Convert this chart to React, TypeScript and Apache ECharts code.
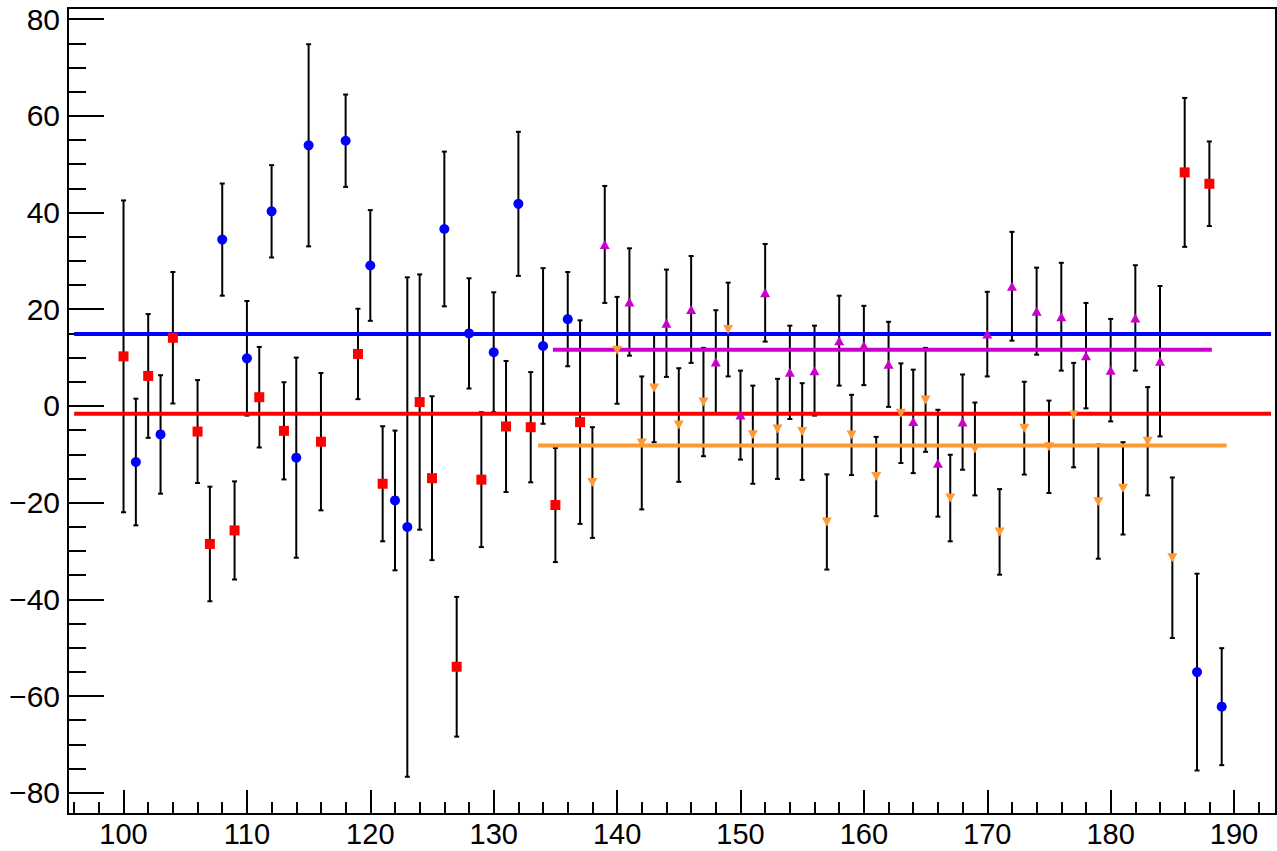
import React, { useEffect, useRef } from "react";
import * as echarts from "echarts";

// ---- data ----
const blueX = [101, 103, 108, 110, 112, 114, 115, 118, 120, 122, 123, 126, 128, 130, 132, 134, 136, 187, 189];
const blueY = [-11.6, -5.9, 34.4, 9.85, 40.25, -10.7, 53.9, 54.85, 29.05, -19.55, -25.05, 36.6, 15.0, 11.1, 41.8, 12.4, 17.95, -55.05, -62.2];
const blueErr = [13.1, 12.25, 11.6, 11.85, 9.55, 20.7, 20.9, 9.55, 11.45, 14.45, 51.65, 16.0, 11.4, 12.4, 14.9, 16.1, 9.75, 20.35, 12.1];

const redX = [100, 102, 104, 106, 107, 109, 111, 113, 116, 119, 121, 124, 125, 127, 129, 131, 133, 135, 137, 186, 188];
const redY = [10.25, 6.2, 14.1, -5.3, -28.55, -25.75, 1.8, -5.15, -7.4, 10.75, -16.1, 0.8, -14.95, -53.95, -15.25, -4.25, -4.4, -20.5, -3.35, 48.3, 45.95];
const redErr = [32.25, 12.8, 13.6, 10.65, 11.85, 10.15, 10.4, 10.05, 14.2, 9.35, 11.9, 26.4, 16.95, 14.45, 13.95, 13.55, 11.4, 11.8, 21.05, 15.4, 8.75];

const magX = [139, 141, 144, 146, 148, 150, 152, 154, 156, 158, 160, 162, 164, 166, 168, 170, 172, 174, 176, 178, 180, 182, 184];
const magY = [33.4, 21.5, 17.1, 19.95, 9.1, -1.9, 23.4, 6.95, 7.3, 13.5, 12.5, 8.6, -3.2, -11.85, -3.35, 14.85, 24.75, 19.6, 18.45, 10.4, 7.4, 18.2, 9.25];
const magErr = [12.1, 11.1, 11.1, 11.05, 10.7, 9.2, 10.1, 9.65, 9.3, 9.3, 8.2, 8.8, 10.7, 11.05, 9.85, 8.75, 11.25, 9.0, 11.15, 10.9, 10.6, 10.9, 15.55];

const orX = [138, 140, 142, 143, 145, 147, 149, 151, 153, 155, 157, 159, 161, 163, 165, 167, 169, 171, 173, 175, 177, 179, 181, 183, 185];
const orY = [-15.85, 11.5, -7.65, 3.7, -3.95, 0.8, 15.8, -5.95, -4.75, -5.3, -24.0, -6.0, -14.6, -1.5, 1.25, -19.05, -8.9, -26.05, -4.6, -8.45, -1.9, -19.8, -17.05, -7.3, -31.4];
const orErr = [11.45, 11.05, 13.75, 11.2, 11.75, 11.2, 9.7, 10.15, 10.35, 10.0, 9.85, 8.3, 8.2, 10.3, 10.75, 8.95, 9.6, 8.85, 9.6, 9.55, 10.8, 11.8, 9.55, 11.2, 16.6];

// fitted constants (blue, red, magenta, orange)
const fitValues = [14.86, -1.62, 11.6, -8.17];
const fitFrom = [96, 96, 134.8, 133.6];
const fitTo = [193, 193, 188.2, 189.4];

// axis ticks
const xMajor = [100, 110, 120, 130, 140, 150, 160, 170, 180, 190];
const xMinor = [96, 98, 100, 102, 104, 106, 108, 110, 112, 114, 116, 118, 120, 122, 124, 126, 128, 130, 132, 134, 136, 138, 140, 142, 144, 146, 148, 150, 152, 154, 156, 158, 160, 162, 164, 166, 168, 170, 172, 174, 176, 178, 180, 182, 184, 186, 188, 190, 192];
const yMajor = [-80, -60, -40, -20, 0, 20, 40, 60, 80];
const yMinor = [-80, -75, -70, -65, -60, -55, -50, -45, -40, -35, -30, -25, -20, -15, -10, -5, 0, 5, 10, 15, 20, 25, 30, 35, 40, 45, 50, 55, 60, 65, 70, 75, 80];

const X_MIN = 95.5;
const X_MAX = 193.4;
const Y_MIN = -84.4;
const Y_MAX = 82.3;

const BLUE = "#0000ff";
const RED = "#ff0000";
const MAG = "#cc00cc";
const ORANGE = "#ff9933";
const FONT = "'Liberation Sans', Arial, Helvetica, sans-serif";

function errRender(params: any, api: any) {
  const x = api.value(0);
  const y = api.value(1);
  const e = api.value(2);
  const top = api.coord([x, y + e]);
  const bot = api.coord([x, y - e]);
  const st = { stroke: "#000", lineWidth: 2 };
  const cw = 2.5;
  return {
    type: "group",
    children: [
      { type: "line", shape: { x1: top[0], y1: top[1], x2: bot[0], y2: bot[1] }, style: st },
      { type: "line", shape: { x1: top[0] - cw, y1: top[1], x2: top[0] + cw, y2: top[1] }, style: st },
      { type: "line", shape: { x1: bot[0] - cw, y1: bot[1], x2: bot[0] + cw, y2: bot[1] }, style: st },
    ],
  };
}

function errSeries(xs: number[], ys: number[], es: number[]) {
  return {
    type: "custom",
    silent: true,
    z: 2,
    renderItem: errRender,
    encode: { x: 0, y: 1 },
    data: xs.map((x, i) => [x, ys[i], es[i]]),
  };
}

function markerSeries(xs: number[], ys: number[], symbol: string, color: string, size: any, rotate = 0) {
  return {
    type: "scatter",
    silent: true,
    z: 5,
    symbol,
    symbolSize: size,
    symbolRotate: rotate,
    itemStyle: { color, opacity: 1 },
    data: xs.map((x, i) => [x, ys[i]]),
  };
}

const fitColors = [BLUE, RED, MAG, ORANGE];

function fitSeries(i: number) {
  return {
    type: "line",
    silent: true,
    z: 3,
    symbol: "none",
    lineStyle: { color: fitColors[i], width: 4 },
    data: [
      [fitFrom[i], fitValues[i]],
      [fitTo[i], fitValues[i]],
    ],
  };
}

const fmtY = (v: number) => (v < 0 ? "\u2212" + Math.abs(v) : String(v));

export default function App() {
  const ref = useRef<HTMLDivElement>(null);
  useEffect(() => {
    const chart = echarts.init(ref.current!, null, { renderer: "svg" });
    const axisLineStyle = { color: "#000", width: 2 };
    chart.setOption({
      animation: false,
      backgroundColor: "#fff",
      grid: {
        left: 68,
        right: 1,
        top: 8,
        bottom: 37,
        show: true,
        borderColor: "#000",
        borderWidth: 2,
        backgroundColor: "transparent",
        containLabel: false,
        outerBoundsMode: "none",
      },
      xAxis: [
        {
          type: "value",
          position: "bottom",
          min: X_MIN,
          max: X_MAX,
          axisLine: { show: true, onZero: false, lineStyle: axisLineStyle },
          axisTick: { show: true, inside: true, length: 24, customValues: xMajor, lineStyle: axisLineStyle },
          axisLabel: {
            show: true,
            customValues: xMajor,
            color: "#000",
            fontSize: 29,
            lineHeight: 18,
            fontFamily: FONT,
            margin: 11,
          },
          splitLine: { show: false },
        },
        {
          type: "value",
          position: "bottom",
          min: X_MIN,
          max: X_MAX,
          axisLine: { show: false, onZero: false },
          axisTick: { show: true, inside: true, length: 12, customValues: xMinor, lineStyle: axisLineStyle },
          axisLabel: { show: false },
          splitLine: { show: false },
        },
      ],
      yAxis: [
        {
          type: "value",
          position: "left",
          min: Y_MIN,
          max: Y_MAX,
          axisLine: { show: true, onZero: false, lineStyle: axisLineStyle },
          axisTick: { show: true, inside: true, length: 36, customValues: yMajor, lineStyle: axisLineStyle },
          axisLabel: {
            show: true,
            customValues: yMajor,
            color: "#000",
            fontSize: 30,
            fontFamily: FONT,
            margin: 8,
            formatter: fmtY,
          },
          splitLine: { show: false },
        },
        {
          type: "value",
          position: "left",
          min: Y_MIN,
          max: Y_MAX,
          axisLine: { show: false, onZero: false },
          axisTick: { show: true, inside: true, length: 18, customValues: yMinor, lineStyle: axisLineStyle },
          axisLabel: { show: false },
          splitLine: { show: false },
        },
      ],
      series: [
        errSeries(blueX, blueY, blueErr),
        errSeries(redX, redY, redErr),
        errSeries(magX, magY, magErr),
        errSeries(orX, orY, orErr),
        fitSeries(0),
        fitSeries(1),
        fitSeries(2),
        fitSeries(3),
        markerSeries(blueX, blueY, "circle", BLUE, 10),
        markerSeries(redX, redY, "rect", RED, 10),
        markerSeries(magX, magY, "triangle", MAG, [10, 9]),
        markerSeries(orX, orY, "triangle", ORANGE, [10, 9], 180),
      ],
    });
    return () => chart.dispose();
  }, []);
  return (
    <div
      ref={ref}
      style={{ position: "absolute", left: 0, top: 0, width: 1277, height: 851, background: "#fff" }}
    />
  );
}
